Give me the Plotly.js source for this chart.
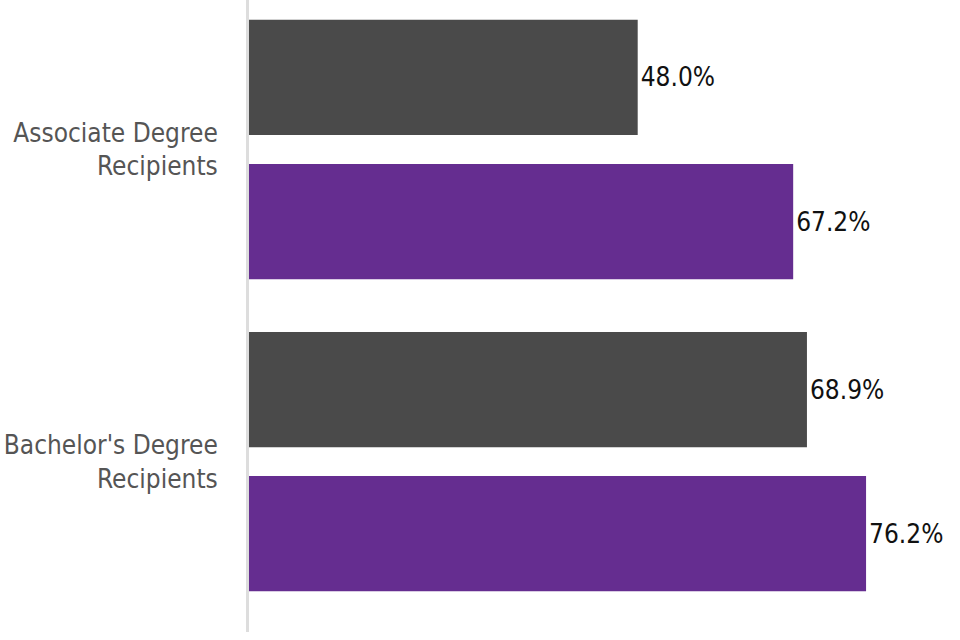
<!DOCTYPE html>
<html>
<head>
<meta charset="utf-8">
<script src="https://cdn.plot.ly/plotly-3.0.1.min.js"></script>
<style>html,body{margin:0;padding:0;background:#fff;}#chart{width:960px;height:640px;}</style>
</head>
<body>
<div id="chart"></div>
<script>
const categories = ["Associate Degree<br>Recipients", "Bachelor's Degree<br>Recipients"];
const seriesA = [48.0, 68.9];
const seriesB = [67.2, 76.2];
const seriesALabels = ["48.0%", "68.9%"];
const seriesBLabels = ["67.2%", "76.2%"];

const FONT = "'Liberation Sans Narrow', 'DejaVu Sans Condensed', 'Roboto Condensed', sans-serif";

const traces = [
  {
    type: 'bar', orientation: 'h', name: 'A',
    y: categories, x: seriesA, text: seriesALabels,
    textposition: 'outside', cliponaxis: false,
    textfont: {family: FONT, size: 26, color: '#111'},
    marker: {color: '#4a4a4a'}, hoverinfo: 'none'
  },
  {
    type: 'bar', orientation: 'h', name: 'B',
    y: categories, x: seriesB, text: seriesBLabels,
    textposition: 'outside', cliponaxis: false,
    textfont: {family: FONT, size: 26, color: '#111'},
    marker: {color: '#652d90'}, hoverinfo: 'none'
  }
];

const layout = {
  width: 960, height: 640,
  margin: {l: 249, r: 0, t: 0, b: 8},
  paper_bgcolor: '#fff', plot_bgcolor: '#fff',
  showlegend: false,
  barmode: 'group',
  bargap: 0.077,
  bargroupgap: 0.2,
  font: {family: FONT},
  xaxis: {range: [0, 87.8], showgrid: false, zeroline: false, showticklabels: false, showline: false, ticks: ''},
  yaxis: {
    type: 'category',
    range: [1.546, -0.479],
    showgrid: false, zeroline: false,
    showline: true, linecolor: '#dddddd', linewidth: 3,
    ticks: '', ticklabelstandoff: 23,
    tickfont: {family: FONT, size: 26, color: '#555'}
  }
};

Plotly.newPlot('chart', traces, layout, {staticPlot: true, displayModeBar: false});
</script>
</body>
</html>
